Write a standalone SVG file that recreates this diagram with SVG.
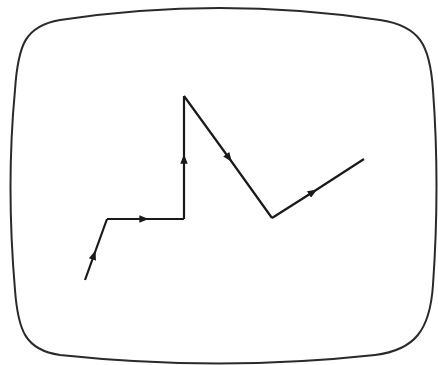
<svg xmlns="http://www.w3.org/2000/svg" width="438" height="365" viewBox="0 0 438 365">
<style>
.frame{fill:none;stroke:#2a2a2a;stroke-width:2}
.ln{fill:none;stroke:#1a1a1a;stroke-width:2.2;stroke-linejoin:miter;marker-mid:url(#arr)}
</style>
<defs>
<marker id="arr" viewBox="0 0 10 8" refX="5" refY="4" markerWidth="10" markerHeight="7.5" markerUnits="userSpaceOnUse" orient="auto">
<path d="M0,0 L10,4 L0,8 Z" fill="#1a1a1a"/>
</marker>
</defs>
<rect width="438" height="365" fill="#ffffff"/>
<g id="screen">
<path class="frame" d="M60,20 Q219,-4 380,20 C420,26 430,45 433,90 Q440,185 433,285 C430,330 415,350 375,355 Q219,372 60,355 C25,350 18,330 15,290 Q6,185 15,90 C18,45 25,26 60,20 Z"/>
</g>
<g id="connectors">
<path class="ln" d="M85,280 L94,255 L107,219"/>
<path class="ln" d="M107,219 L144,219 L184,219"/>
<path class="ln" d="M184,219 L184,159 L184,96"/>
<path class="ln" d="M184,96 L229,158 L272,218"/>
<path class="ln" d="M272,218 L313,192 L364,159"/>
</g>
</svg>
